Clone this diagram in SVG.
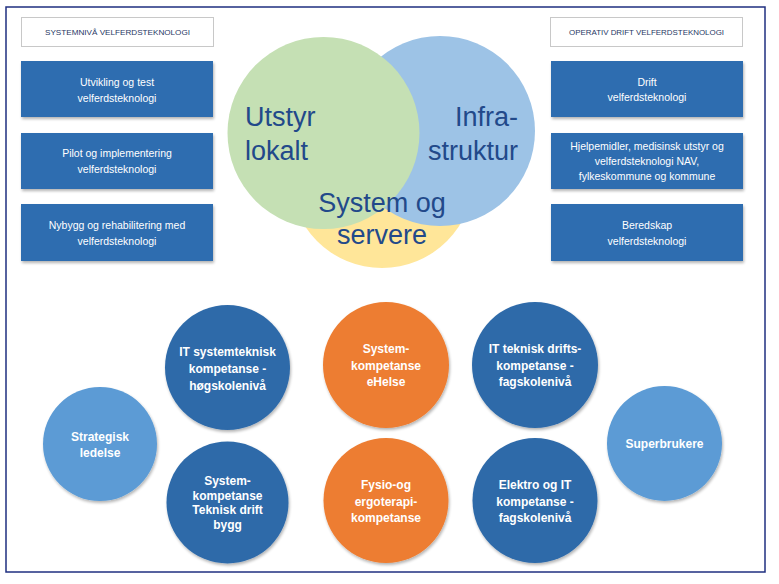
<svg xmlns="http://www.w3.org/2000/svg" width="779" height="584" viewBox="0 0 779 584">
<defs>
<filter id="sh" x="-10%" y="-10%" width="125%" height="130%">
<feGaussianBlur in="SourceAlpha" stdDeviation="1.5"/>
<feOffset dx="1" dy="2" result="b"/>
<feComponentTransfer><feFuncA type="linear" slope="0.3"/></feComponentTransfer>
<feMerge><feMergeNode/><feMergeNode in="SourceGraphic"/></feMerge>
</filter>
<style>
.hdr{fill:#fff;stroke:#c8c8c8;stroke-width:1}
.hdrt{font-family:"Liberation Sans",Arial,sans-serif;font-size:7.5px;fill:#1f3864;text-anchor:middle}
.box{fill:#2e6db0;filter:url(#sh)}
.boxt{font-family:"Liberation Sans",Arial,sans-serif;font-size:10.5px;fill:#fff;text-anchor:middle}
.venn{font-family:"Liberation Sans",Arial,sans-serif;font-size:27px;fill:#22498a}
.c-dark{fill:#2e6aa9;filter:url(#sh)}
.c-light{fill:#5b9bd5;filter:url(#sh)}
.c-orange{fill:#ed7d31;filter:url(#sh)}
.ct{font-family:"Liberation Sans",Arial,sans-serif;font-size:12px;font-weight:bold;fill:#fff;text-anchor:middle}
</style>
</defs>
<rect x="0" y="0" width="779" height="584" fill="#fff"/>
<rect x="6" y="7" width="759" height="565" fill="none" stroke="#1f2f80" stroke-width="1.5"/>

<g id="venn">
<circle cx="382" cy="176" r="92" fill="#ffe699"/>
<circle cx="440" cy="131" r="95" fill="#9dc3e6"/>
<circle cx="323.5" cy="133" r="96" fill="#c5e0b4"/>
<text class="venn" x="245" y="126">Utstyr</text>
<text class="venn" x="245" y="160">lokalt</text>
<text class="venn" x="518" y="126" text-anchor="end">Infra-</text>
<text class="venn" x="518" y="160" text-anchor="end">struktur</text>
<text class="venn" x="382" y="212" text-anchor="middle">System og</text>
<text class="venn" x="382" y="244" text-anchor="middle">servere</text>
</g>

<g id="hdr-left">
<rect class="hdr" x="21.5" y="17.5" width="192" height="29"/>
<text class="hdrt" x="117.5" y="35" textLength="145" lengthAdjust="spacingAndGlyphs">SYSTEMNIVÅ VELFERDSTEKNOLOGI</text>
</g>
<g id="hdr-right">
<rect class="hdr" x="550.5" y="17.5" width="192" height="29"/>
<text class="hdrt" x="646.5" y="35" textLength="155" lengthAdjust="spacingAndGlyphs">OPERATIV DRIFT VELFERDSTEKNOLOGI</text>
</g>

<g id="box-utvikling">
<rect class="box" x="21" y="61" width="192" height="56"/>
<text class="boxt" x="117" y="86">Utvikling og test</text>
<text class="boxt" x="117" y="102">velferdsteknologi</text>
</g>
<g id="box-pilot">
<rect class="box" x="21" y="133" width="192" height="56"/>
<text class="boxt" x="117" y="157">Pilot og implementering</text>
<text class="boxt" x="117" y="173">velferdsteknologi</text>
</g>
<g id="box-nybygg">
<rect class="box" x="21" y="204" width="192" height="57"/>
<text class="boxt" x="117" y="229">Nybygg og rehabilitering med</text>
<text class="boxt" x="117" y="245">velferdsteknologi</text>
</g>

<g id="box-drift">
<rect class="box" x="551" y="61" width="192" height="56"/>
<text class="boxt" x="647" y="86">Drift</text>
<text class="boxt" x="647" y="101">velferdsteknologi</text>
</g>
<g id="box-hjelpemidler">
<rect class="box" x="551" y="133" width="192" height="56"/>
<text class="boxt" x="647" y="150">Hjelpemidler, medisinsk utstyr og</text>
<text class="boxt" x="647" y="165">velferdsteknologi NAV,</text>
<text class="boxt" x="647" y="180">fylkeskommune og kommune</text>
</g>
<g id="box-beredskap">
<rect class="box" x="551" y="204" width="192" height="57"/>
<text class="boxt" x="647" y="229">Beredskap</text>
<text class="boxt" x="647" y="245">velferdsteknologi</text>
</g>

<g id="connectors"></g>

<g id="c-strategisk">
<circle class="c-light" cx="100" cy="444" r="57"/>
<text class="ct" x="100" y="441">Strategisk</text>
<text class="ct" x="100" y="457">ledelse</text>
</g>
<g id="c-itsystem">
<circle class="c-dark" cx="227.5" cy="367.5" r="62.5"/>
<text class="ct" x="227.5" y="356">IT systemteknisk</text>
<text class="ct" x="227.5" y="373">kompetanse -</text>
<text class="ct" x="227.5" y="390">høgskolenivå</text>
</g>
<g id="c-teknisk-drift">
<circle class="c-dark" cx="227.5" cy="502.5" r="61"/>
<text class="ct" x="227.5" y="485">System-</text>
<text class="ct" x="227.5" y="499.5">kompetanse</text>
<text class="ct" x="227.5" y="514">Teknisk drift</text>
<text class="ct" x="227.5" y="528.5">bygg</text>
</g>
<g id="c-ehelse">
<circle class="c-orange" cx="386" cy="365" r="63"/>
<text class="ct" x="386" y="353">System-</text>
<text class="ct" x="386" y="370">kompetanse</text>
<text class="ct" x="386" y="386">eHelse</text>
</g>
<g id="c-fysio">
<circle class="c-orange" cx="386" cy="500.5" r="62.5"/>
<text class="ct" x="386" y="489">Fysio-og</text>
<text class="ct" x="386" y="506">ergoterapi-</text>
<text class="ct" x="386" y="522">kompetanse</text>
</g>
<g id="c-itdrift">
<circle class="c-dark" cx="535" cy="365" r="63"/>
<text class="ct" x="535" y="353">IT teknisk drifts-</text>
<text class="ct" x="535" y="370">kompetanse -</text>
<text class="ct" x="535" y="386">fagskolenivå</text>
</g>
<g id="c-elektro">
<circle class="c-dark" cx="535" cy="500.5" r="62.5"/>
<text class="ct" x="535" y="489">Elektro og IT</text>
<text class="ct" x="535" y="506">kompetanse -</text>
<text class="ct" x="535" y="522">fagskolenivå</text>
</g>
<g id="c-superbrukere">
<circle class="c-light" cx="664.5" cy="443.5" r="57.5"/>
<text class="ct" x="664.5" y="448">Superbrukere</text>
</g>
</svg>
